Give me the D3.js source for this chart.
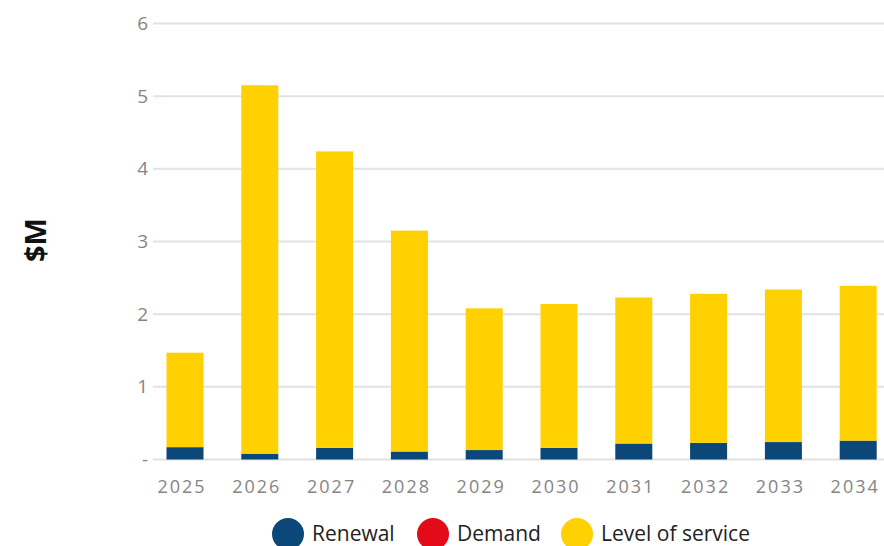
<!DOCTYPE html>
<html>
<head>
<meta charset="utf-8">
<script src="https://cdn.jsdelivr.net/npm/d3@7"></script>
<style>
  html, body { margin: 0; padding: 0; background: #fff; }
  svg { display: block; font-family: "Open Sans", "Noto Sans", sans-serif; }
</style>
</head>
<body>
<svg id="chart" width="884" height="546"></svg>
<script>
// Capital expenditure by year, $M
const years = ["2025", "2026", "2027", "2028", "2029", "2030", "2031", "2032", "2033", "2034"];
const renewal        = [0.17, 0.08, 0.16, 0.11, 0.13, 0.16, 0.22, 0.23, 0.24, 0.26];
const demand         = [0, 0, 0, 0, 0, 0, 0, 0, 0, 0];
const levelOfService = [1.30, 5.07, 4.08, 3.04, 1.95, 1.98, 2.01, 2.05, 2.10, 2.13];
const yTicks = [0, 1, 2, 3, 4, 5, 6];
const seriesNames = ["Renewal", "Demand", "Level of service"];
const seriesColors = ["#0b4778", "#e30b17", "#ffd100"];

const rows = years.map((y, i) => ({
  year: y,
  "Renewal": renewal[i],
  "Demand": demand[i],
  "Level of service": levelOfService[i]
}));

const svg = d3.select("#chart");
const W = 884;

const x = d3.scaleBand().domain(years).range([147.6, 895.6]).paddingInner(0.5).paddingOuter(0.25);
const y = d3.scaleLinear().domain([0, 6]).range([459.5, 23.5]);

// Horizontal gridlines
svg.append("g")
  .selectAll("line")
  .data(yTicks)
  .join("line")
  .attr("x1", 153).attr("x2", W)
  .attr("y1", d => y(d)).attr("y2", d => y(d))
  .attr("stroke", "#e2e2e2")
  .attr("stroke-width", 2);

// Y axis labels (zero shown as a dash)
const yAxis = d3.axisLeft(y).tickValues(yTicks).tickSize(0).tickPadding(0)
  .tickFormat(d => d === 0 ? "-" : d3.format("d")(d));
svg.append("g")
  .attr("transform", "translate(148,0)")
  .call(yAxis)
  .call(g => g.select(".domain").remove())
  .call(g => g.selectAll("text")
    .attr("fill", "#858585")
    .attr("font-size", 19)
    .attr("font-family", "'Open Sans', 'Noto Sans', sans-serif"));

// Stacked bars
const stack = d3.stack().keys(seriesNames);
const layers = stack(rows);
const color = d3.scaleOrdinal().domain(seriesNames).range(seriesColors);

svg.append("g")
  .selectAll("g")
  .data(layers)
  .join("g")
  .attr("fill", d => color(d.key))
  .selectAll("rect")
  .data(d => d)
  .join("rect")
  .attr("x", d => x(d.data.year) + (x.bandwidth() - 37) / 2)
  .attr("width", 37)
  .attr("y", d => y(d[1]))
  .attr("height", d => Math.max(0, y(d[0]) - y(d[1])));

// X axis labels
const xAxis = d3.axisBottom(x).tickSize(0).tickPadding(0);
svg.append("g")
  .attr("transform", "translate(-3,480)")
  .call(xAxis)
  .call(g => g.select(".domain").remove())
  .call(g => g.selectAll("text")
    .attr("fill", "#858585")
    .attr("font-size", 18)
    .attr("letter-spacing", "2px")
    .attr("dy", "0.71em")
    .attr("font-family", "'Open Sans', 'Noto Sans', sans-serif"));

// Y axis title
svg.append("text")
  .attr("transform", "translate(46,240) rotate(-90)")
  .attr("text-anchor", "middle")
  .attr("font-size", 29)
  .attr("font-weight", "bold")
  .attr("fill", "#111")
  .text("$M");

// Legend
const legendX = [288, 433, 577];
const legend = svg.append("g")
  .selectAll("g")
  .data(seriesNames)
  .join("g")
  .attr("transform", (d, i) => `translate(${legendX[i]},534)`);
legend.append("circle")
  .attr("r", 16)
  .attr("fill", d => color(d));
legend.append("text")
  .attr("x", 24)
  .attr("dy", "0.35em")
  .attr("font-size", 21)
  .attr("fill", "#222")
  .attr("font-family", "'Open Sans', 'Noto Sans', sans-serif")
  .text(d => d);
</script>
</body>
</html>
